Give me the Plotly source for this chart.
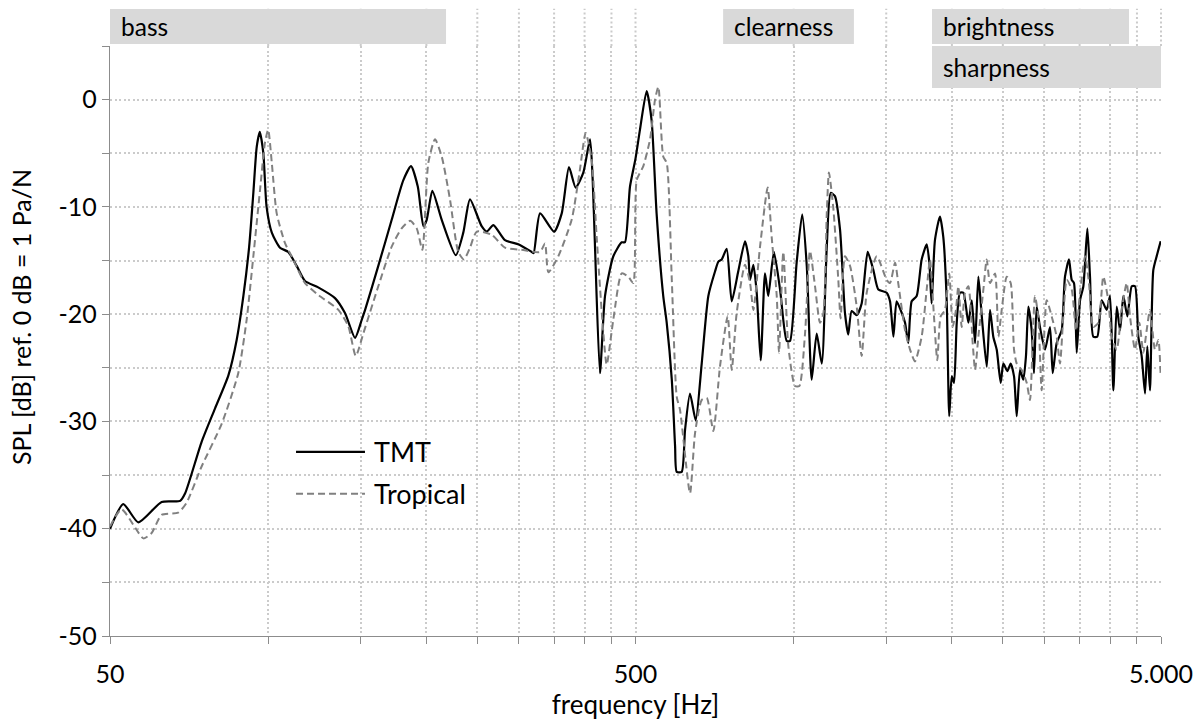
import numpy as np
import plotly.graph_objects as go

# Frequency response, TMT driver
tmt_freq = [50, 53.0, 56.6, 62.7, 68.0, 69.5, 74.7, 79.2, 84.0, 87.1, 89.7, 92.0, 93.7, 95.1,
            96.4, 97.9, 99.3, 101.6, 105.3, 109.2, 113.3, 117.5, 124.5, 134.0, 140.0, 146.3,
            150.7, 152.9, 162.0, 171.8, 180.8, 187.0, 192.6, 197.4, 200.3, 205.3, 213.9, 227.5,
            235.1, 242.1, 254.8, 260.5, 268.2, 282.2, 300.0, 317.3, 320.0, 329.1, 350.0, 361.9,
            373.6, 384.7, 397.8, 409.7, 414.5, 418.7, 427.9, 437.5, 453.7, 470.7, 477.5, 488.1,
            500.0, 509.9, 525.0, 536.5, 548.4, 564.6, 573.3, 586.2, 594.7, 599.0, 612.2, 621.2,
            634.9, 651.0, 668.3, 688.0, 708.6, 718.9, 729.5, 745.6, 762.2, 784.4, 807.8, 819.8,
            826.0, 838.0, 850.4, 865.4, 881.9, 894.6, 916.9, 942.0, 970.0, 983.9, 1013, 1038,
            1059, 1082, 1106, 1131, 1156, 1176, 1198, 1225, 1252, 1270, 1289, 1318, 1347, 1383,
            1418, 1449, 1503, 1525, 1548, 1570, 1606, 1629, 1652, 1677, 1714, 1752, 1791, 1812,
            1830, 1857, 1898, 1926, 1955, 1977, 1999, 2019, 2043, 2072, 2103, 2150, 2182, 2214,
            2246, 2280, 2330, 2364, 2398, 2434, 2477, 2506, 2550, 2588, 2626, 2657, 2696, 2735,
            2767, 2796, 2837, 2866, 2900, 2942, 3008, 3074, 3111, 3165, 3236, 3283, 3341, 3381,
            3415, 3456, 3507, 3558, 3621, 3663, 3717, 3782, 3856, 3941, 3999, 4058, 4118, 4179,
            4240, 4315, 4399, 4462, 4527, 4594, 4662, 4709, 4764, 4834, 4906, 4993]
tmt_spl = [-40.0, -37.7, -39.4, -37.5, -37.4, -36.7, -31.9, -28.8, -25.7, -22.4, -18.3, -13.7, -8.7, -4.4,
           -3.0, -5.0, -10.0, -12.4, -13.8, -14.2, -15.5, -16.9, -17.5, -18.5, -19.9, -22.2,
           -20.5, -19.6, -15.5, -11.2, -7.5, -6.2, -8.1, -11.8, -11.2, -8.5, -11.2, -14.5,
           -12.4, -9.3, -11.8, -12.3, -11.7, -13.1, -13.5, -14.2, -14.3, -10.6, -12.3, -10.6,
           -6.3, -8.2, -6.8, -3.7, -7.5, -13.7, -25.5, -18.3, -14.6, -13.3, -13.3, -8.1,
           -5.5, -2.8, 0.8, -1.9, -10.6, -18.3, -20.8, -26.1, -32.3, -34.7, -34.7, -30.8,
           -27.4, -29.9, -24.6, -18.3, -16.0, -15.1, -14.9, -13.9, -18.8, -16.0, -13.2, -14.6,
           -16.8, -15.4, -18.0, -24.3, -16.2, -18.3, -14.2, -17.7, -22.5, -22.5, -15.2, -10.7,
           -15.5, -26.1, -21.8, -24.6, -13.7, -8.7, -9.0, -12.1, -19.9, -21.9, -19.7, -20.1, -19.0, -14.2,
           -15.9, -17.7, -18.0, -18.8, -22.1, -18.8, -19.9, -20.8, -22.7, -18.8, -18.3, -14.9, -13.5, -15.2,
           -19.0, -13.1, -10.9, -12.8, -18.7, -29.5, -25.8, -26.4, -20.8, -18.0, -18.0, -20.8, -18.7, -22.7,
           -16.5, -20.2, -24.9, -19.6, -22.1, -23.3, -26.4, -24.6, -25.3, -24.6, -25.8, -29.5, -25.2, -26.1,
           -23.9, -19.3, -21.5, -25.5, -19.3, -21.2, -23.3, -21.2, -25.5, -22.7, -21.5, -16.5, -14.9, -16.8,
           -17.1, -23.6, -18.7, -17.4, -12.0, -16.5, -22.1, -22.1, -18.7, -19.6, -18.3, -27.1, -19.3, -21.5,
           -18.3, -20.2, -17.4, -17.4, -22.1, -23.9, -27.4, -23.0, -27.1, -15.9, -14.6, -13.2]

# Frequency response, Tropical driver
trop_freq = [50, 52.6, 57.9, 60.0, 62.7, 67.4, 69.9, 74.7, 81.6, 87.7, 91.0, 93.7, 96.5, 98.6,
             100.0, 101.6, 103.8, 107.7, 110.8, 117.5, 124.5, 136.0, 142.0, 146.8, 151.7, 162.0,
             171.8, 179.5, 186.2, 191.7, 196.5, 201.7, 207.7, 213.9, 221.8, 230.0, 235.8, 242.1,
             249.4, 266.2, 282.2, 303.6, 329.1, 336.3, 341.3, 356.5, 378.0, 392.0, 401.9, 412.6,
             421.8, 432.3, 440.7, 453.7, 470.7, 484.5, 495.2, 502.7, 517.4, 532.9, 544.7, 552.7,
             564.6, 573.3, 586.2, 599.0, 607.6, 634.9, 649.0, 668.3, 683.2, 703.2, 723.9, 748.8,
             762.2, 778.9, 807.8, 826.0, 838.0, 862.9, 892.2, 908.0, 928.4, 937.8, 955.5, 976.9,
             1006, 1025, 1051, 1074, 1098, 1122, 1139, 1156, 1167, 1189, 1216, 1228, 1252, 1280,
             1318, 1347, 1377, 1439, 1503, 1525, 1559, 1581, 1629, 1665, 1701, 1752, 1791, 1817,
             1849, 1876, 1904, 1940, 1977, 2007, 2036, 2057, 2088, 2118, 2150, 2191, 2214, 2246,
             2296, 2330, 2364, 2416, 2452, 2488, 2543, 2588, 2626, 2657, 2716, 2776, 2816, 2878,
             2920, 2964, 3030, 3097, 3165, 3212, 3259, 3308, 3381, 3446, 3507, 3585, 3647, 3717,
             3799, 3883, 3969, 4029, 4118, 4209, 4302, 4365, 4462, 4547, 4627, 4696, 4764, 4870,
             4942, 4993]
trop_spl = [-39.8, -38.2, -40.9, -40.4, -38.7, -38.5, -37.6, -34.2, -30.2, -25.5, -20.5, -14.6, -8.4, -4.0,
            -2.8, -5.9, -10.6, -13.4, -14.6, -17.1, -18.2, -19.6, -21.1, -23.9, -21.8, -17.4,
            -13.7, -12.0, -11.3, -12.0, -14.0, -5.9, -3.7, -5.3, -9.3, -14.2, -14.9, -13.8,
            -12.3, -12.6, -13.8, -14.0, -14.2, -13.4, -16.1, -14.6, -11.2, -6.5, -3.1, -5.6,
            -12.8, -20.5, -24.7, -20.5, -16.2, -16.5, -17.1, -7.5, -6.2, -3.7, 0.0, 1.2,
            -5.3, -5.9, -16.8, -27.7, -28.9, -36.7, -31.1, -28.0, -27.8, -30.9, -24.9, -20.2,
            -25.2, -19.9, -15.4, -17.1, -19.6, -13.7, -8.2, -12.8, -18.3, -23.6, -14.2, -23.0,
            -26.7, -26.7, -21.8, -14.1, -17.4, -20.8, -19.9, -10.6, -6.8, -10.0, -16.8, -20.4, -14.6, -15.5,
            -19.3, -23.9, -18.0, -14.6, -16.8, -17.1, -15.2, -17.1, -21.5, -23.3, -24.4, -22.1, -17.7, -14.9,
            -20.2, -24.3, -20.2, -19.6, -16.2, -21.2, -19.6, -17.4, -21.2, -18.0, -17.4, -22.7, -25.2, -22.1,
            -17.7, -14.9, -17.1, -16.2, -22.1, -19.6, -16.5, -17.1, -23.3, -24.6, -25.2, -26.4, -28.0, -18.3,
            -20.2, -27.1, -18.7, -20.2, -22.1, -24.6, -20.2, -16.8, -17.7, -21.5, -18.0, -14.6, -17.1, -21.2,
            -20.8, -16.5, -18.7, -22.1, -23.3, -19.6, -17.1, -20.2, -23.3, -20.8, -23.6, -21.5, -19.6, -23.3,
            -22.4, -25.8]

# Perceptual frequency bands shown above the plot
band_names = ["bass", "clearness", "brightness", "sharpness"]
band_start = [50, 734, 1833, 1833]
band_end = [218, 1302, 4346, 5000]
band_row = [0, 0, 0, 1]

# Axis ticks
x_major = [50, 500, 5000]
x_major_text = ["50", "500", "5.000"]
x_minor = [100, 150, 200, 250, 300, 350, 400, 450,
           1000, 1500, 2000, 2500, 3000, 3500, 4000, 4500]
y_major = [-50, -40, -30, -20, -10, 0]
y_major_text = ["-50", "-40", "-30", "-20", "-10", "0"]

FONT = "Lato"
TICK_SIZE = 25
GRID = "#cbcbcb"
GRID_DASH = "2px,2.5px"
AXIS = "#8c8c8c"

fig = go.Figure()
fig.add_trace(go.Scatter(x=tmt_freq, y=tmt_spl, mode="lines", name="TMT",
                         line=dict(color="#000000", width=2.2, shape="spline", smoothing=0.6),
                         showlegend=False))
fig.add_trace(go.Scatter(x=trop_freq, y=trop_spl, mode="lines", name="Tropical",
                         line=dict(color="#808080", width=2, dash="7px,4px", shape="spline", smoothing=0.6),
                         showlegend=False))

# plot-area geometry used for the paper-referenced decorations
x_lo, x_hi = np.log10(50), np.log10(5000)
y_lo, y_hi = -50, 5

def xpaper(f):
    return (np.log10(f) - x_lo) / (x_hi - x_lo)

shapes = []
annotations = []

# vertical grid lines continue into the band strip above the plot
for f in x_minor + [500, 5000]:
    shapes.append(dict(type="line", xref="paper", yref="paper",
                       x0=xpaper(f), x1=xpaper(f), y0=1.0, y1=1.063,
                       line=dict(color=GRID, width=2, dash=GRID_DASH), layer="above"))

row_y = {0: (1.0034, 1.0627), 1: (0.9288, 1.0)}
for name, f0, f1, r in zip(band_names, band_start, band_end, band_row):
    y0, y1 = row_y[r]
    shapes.append(dict(type="rect", xref="paper", yref="paper",
                       x0=xpaper(f0), x1=xpaper(f1), y0=y0, y1=y1,
                       fillcolor="#d9d9d9", line=dict(width=0), layer="above"))
    annotations.append(dict(x=xpaper(f0), y=(y0 + y1) / 2, xref="paper", yref="paper",
                            text=name, showarrow=False, xanchor="left", yanchor="middle",
                            xshift=9, font=dict(family=FONT, size=24.5, color="#000000")))

# legend drawn inside the plot area
legend_items = [("TMT", "#000000", "solid", 2.2, 0.312),
                ("Tropical", "#808080", "7px,4px", 2, 0.241)]
for label, color, dash, width, ly in legend_items:
    shapes.append(dict(type="line", xref="paper", yref="paper",
                       x0=0.177, x1=0.2426, y0=ly, y1=ly,
                       line=dict(color=color, width=width, dash=dash), layer="above"))
    annotations.append(dict(x=0.2493, y=ly, xref="paper", yref="paper", text=label,
                            showarrow=False, xanchor="left", yanchor="middle",
                            font=dict(family=FONT, size=27, color="#000000")))

# y-axis title
annotations.append(dict(x=-0.084, y=0.54, xref="paper", yref="paper",
                        text="SPL [dB] ref. 0 dB = 1 Pa/N", textangle=-90, showarrow=False,
                        xanchor="center", yanchor="middle",
                        font=dict(family=FONT, size=25, color="#000000")))

fig.update_layout(
    width=1201, height=727,
    margin=dict(l=110, r=40, t=46, b=91, autoexpand=False),
    paper_bgcolor="white", plot_bgcolor="white",
    shapes=shapes, annotations=annotations,
    showlegend=False,
    font=dict(family=FONT, size=TICK_SIZE, color="#000000"),
)

fig.update_xaxes(
    type="log", range=[x_lo, x_hi], automargin=False,
    tickmode="array", tickvals=x_major, ticktext=x_major_text,
    ticks="outside", ticklen=7, tickcolor=AXIS, tickwidth=1,
    ticklabelstandoff=9,
    showline=True, linecolor=AXIS, linewidth=1.3,
    showgrid=True, gridcolor=GRID, gridwidth=2, griddash=GRID_DASH,
    zeroline=False,
    tickfont=dict(family=FONT, size=TICK_SIZE, color="#000000"),
    title=dict(text="frequency [Hz]", font=dict(family=FONT, size=26, color="#000000"), standoff=3),
    minor=dict(tickmode="array", tickvals=x_minor, ticks="outside", ticklen=7,
               tickcolor=AXIS, tickwidth=1, showgrid=True, gridcolor=GRID,
               gridwidth=2, griddash=GRID_DASH),
)

fig.update_yaxes(
    range=[y_lo, y_hi], automargin=False,
    tickmode="array", tickvals=y_major, ticktext=y_major_text,
    ticks="outside", ticklen=7, tickcolor=AXIS, tickwidth=1,
    showline=True, linecolor=AXIS, linewidth=1.3,
    showgrid=True, gridcolor=GRID, gridwidth=2, griddash=GRID_DASH,
    zeroline=False,
    tickfont=dict(family=FONT, size=TICK_SIZE, color="#000000"),
    minor=dict(dtick=5, tick0=0, ticks="outside", ticklen=7, tickcolor=AXIS, tickwidth=1,
               showgrid=True, gridcolor=GRID, gridwidth=2, griddash=GRID_DASH),
)

fig.write_html("out.html")
